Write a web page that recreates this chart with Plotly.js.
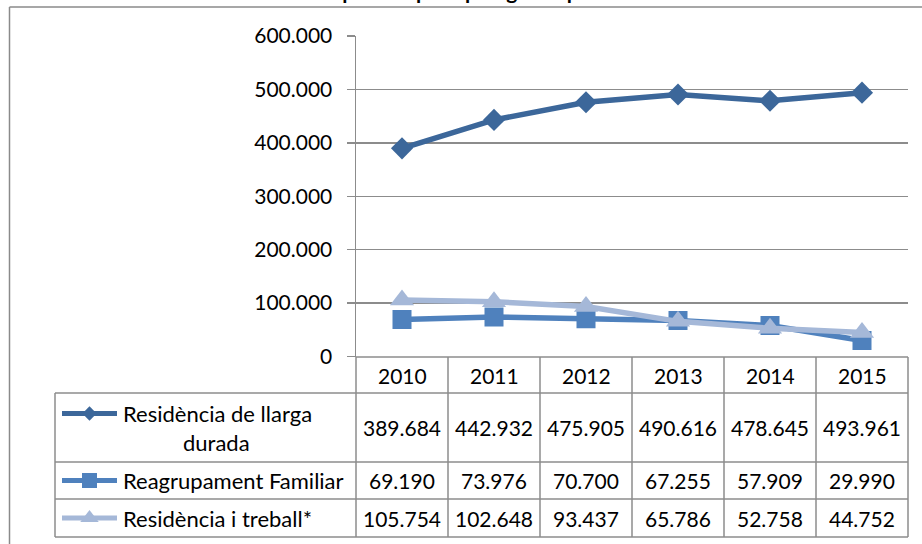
<!DOCTYPE html>
<html>
<head>
<meta charset="utf-8">
<script src="https://cdn.plot.ly/plotly-3.0.1.min.js"></script>
<style>
  html, body { margin: 0; padding: 0; background: #ffffff; }
  #chart { width: 922px; height: 544px; }
</style>
</head>
<body>
<div id="chart"></div>
<script>
// ---------------- DATA ----------------
const years = ['2010', '2011', '2012', '2013', '2014', '2015'];
const seriesNames = ['Residència de llarga durada', 'Reagrupament Familiar', 'Residència i treball*'];
const resLlargaDurada = [389684, 442932, 475905, 490616, 478645, 493961];
const reagrupamentFamiliar = [69190, 73976, 70700, 67255, 57909, 29990];
const residenciaTreball = [105754, 102648, 93437, 65786, 52758, 44752];
const chartTitle = 'Comparació per tipologia de permisos';

// ---------------- STYLE / LAYOUT CONSTANTS (pixels) ----------------
const W = 922, H = 544;
const plotL = 356, plotR = 908, plotT = 36, plotB = 356.5;
const rowLines = [357, 393, 462, 499, 537];
const tableL = 55;
const keyX0 = 62, keyX1 = 117, textX = 121;
const colors = ['#3C679A', '#4F81BD', '#A5B8D8'];
const symbols = ['diamond', 'square', 'triangle-up'];
const markerSizes = [17, 19, 21];
const keyMarkerSizes = [11, 15, 16];
const gridColor = '#8c8c8c';
const fontFam = 'Lato, "Liberation Sans", sans-serif';
const labelSize = 22;
const numSize = 21;

const px = x => x / W;
const py = y => 1 - y / H;
const fmt = v => String(v).replace(/\B(?=(\d{3})+(?!\d))/g, '.');

const allSeries = [resLlargaDurada, reagrupamentFamiliar, residenciaTreball];

// ---------------- TRACES ----------------
const traces = allSeries.map((vals, i) => ({
  type: 'scatter', mode: 'lines+markers',
  x: years, y: vals, name: seriesNames[i],
  line: { color: colors[i], width: 5.5 },
  marker: { symbol: symbols[i], size: markerSizes[i], color: colors[i] },
  xaxis: 'x', yaxis: 'y', hoverinfo: 'x+y'
}));

// legend keys inside the data table (overlay axes in pixel units)
const keyY = [
  (rowLines[1] + rowLines[2]) / 2 - 14,
  (rowLines[2] + rowLines[3]) / 2,
  (rowLines[3] + rowLines[4]) / 2
];
allSeries.forEach((vals, i) => {
  traces.push({
    type: 'scatter', mode: 'lines',
    x: [keyX0, keyX1], y: [keyY[i], keyY[i]],
    line: { color: colors[i], width: 5 },
    xaxis: 'x2', yaxis: 'y2', hoverinfo: 'skip', showlegend: false
  });
  traces.push({
    type: 'scatter', mode: 'markers',
    x: [(keyX0 + keyX1) / 2], y: [keyY[i]],
    marker: { symbol: symbols[i], size: keyMarkerSizes[i], color: colors[i] },
    xaxis: 'x2', yaxis: 'y2', hoverinfo: 'skip', showlegend: false
  });
});

// ---------------- SHAPES (table grid + chart border) ----------------
const shapes = [];
const lineStyle = { color: gridColor, width: 1.5 };
const colW = (plotR - plotL) / years.length;
for (let k = 0; k <= years.length; k++) {
  const xx = plotL + k * colW;
  shapes.push({ type: 'line', xref: 'paper', yref: 'paper', layer: 'below',
    x0: px(xx), x1: px(xx), y0: py(rowLines[0]), y1: py(rowLines[4]), line: lineStyle });
}
shapes.push({ type: 'line', xref: 'paper', yref: 'paper', layer: 'below',
  x0: px(tableL), x1: px(tableL), y0: py(rowLines[1]), y1: py(rowLines[4]), line: lineStyle });
for (let r = 1; r < rowLines.length; r++) {
  shapes.push({ type: 'line', xref: 'paper', yref: 'paper', layer: 'below',
    x0: px(tableL), x1: px(plotR), y0: py(rowLines[r]), y1: py(rowLines[r]), line: lineStyle });
}
shapes.push({ type: 'line', xref: 'paper', yref: 'paper', layer: 'below',
  x0: px(plotL), x1: px(plotR), y0: py(rowLines[0]), y1: py(rowLines[0]), line: lineStyle });
shapes.push({ type: 'line', xref: 'paper', yref: 'paper',
  x0: px(9.5), x1: px(9.5), y0: py(7), y1: 0, line: { color: '#8a8a8a', width: 1.5 } });
shapes.push({ type: 'line', xref: 'paper', yref: 'paper',
  x0: px(9.5), x1: 1, y0: py(7), y1: py(7), line: { color: '#8a8a8a', width: 1.5 } });

// ---------------- ANNOTATIONS (table text) ----------------
const labelFont = { family: fontFam, size: labelSize, color: '#000000' };
const numFont = { family: fontFam, size: numSize, color: '#000000' };
const annotations = [];
const rowCenters = [
  (rowLines[1] + rowLines[2]) / 2,
  (rowLines[2] + rowLines[3]) / 2,
  (rowLines[3] + rowLines[4]) / 2
];
years.forEach((yr, j) => {
  annotations.push({ xref: 'x', yref: 'paper', x: j, y: py((rowLines[0] + rowLines[1]) / 2),
    text: yr, showarrow: false, font: numFont, xanchor: 'center', yanchor: 'middle' });
});
allSeries.forEach((vals, i) => {
  vals.forEach((v, j) => {
    annotations.push({ xref: 'x', yref: 'paper', x: j, y: py(rowCenters[i]),
      text: fmt(v), showarrow: false, font: numFont, xanchor: 'center', yanchor: 'middle' });
  });
});
annotations.push({ xref: 'paper', yref: 'paper', x: px(textX), y: py(keyY[0]),
  text: 'Residència de llarga', showarrow: false, font: labelFont, xanchor: 'left', yanchor: 'middle' });
annotations.push({ xref: 'paper', yref: 'paper', x: px(216), y: py(keyY[0] + 29),
  text: 'durada', showarrow: false, font: labelFont, xanchor: 'center', yanchor: 'middle' });
annotations.push({ xref: 'paper', yref: 'paper', x: px(textX), y: py(keyY[1]),
  text: seriesNames[1], showarrow: false, font: labelFont, xanchor: 'left', yanchor: 'middle' });
annotations.push({ xref: 'paper', yref: 'paper', x: px(textX), y: py(keyY[2]),
  text: seriesNames[2], showarrow: false, font: labelFont, xanchor: 'left', yanchor: 'middle' });
// title (cut off at the top, as in the reference)
annotations.push({ xref: 'paper', yref: 'paper', x: px(475), y: py(5),
  text: '<b>' + chartTitle + '</b>', showarrow: false,
  font: { family: fontFam, size: 21, color: '#000000' }, xanchor: 'center', yanchor: 'bottom' });

// ---------------- LAYOUT ----------------
const layout = {
  width: W, height: H,
  margin: { l: 0, r: 0, t: 0, b: 0, pad: 0 },
  paper_bgcolor: '#ffffff', plot_bgcolor: 'rgba(0,0,0,0)',
  showlegend: false,
  separators: ',.',
  font: { family: fontFam, size: numSize, color: '#000000' },
  xaxis: {
    domain: [px(plotL), px(plotR)],
    type: 'category', range: [-0.5, years.length - 0.5],
    showticklabels: false, showgrid: false, zeroline: false,
    showline: false, ticks: '', fixedrange: true
  },
  yaxis: {
    domain: [py(plotB), py(plotT)],
    range: [0, 600000], dtick: 100000, tick0: 0,
    tickformat: ',d',
    showgrid: true, gridcolor: gridColor, gridwidth: 1.5,
    zeroline: false,
    showline: true, linecolor: gridColor, linewidth: 1.5,
    ticks: 'outside', ticklen: 8, tickcolor: gridColor, tickwidth: 1.5,
    ticklabelstandoff: 10,
    tickfont: { family: fontFam, size: numSize, color: '#000000' },
    fixedrange: true
  },
  xaxis2: { domain: [0, 1], range: [0, W], visible: false, anchor: 'y2', fixedrange: true },
  yaxis2: { domain: [0, 1], range: [H, 0], visible: false, anchor: 'x2', fixedrange: true },
  shapes: shapes,
  annotations: annotations
};

Plotly.newPlot('chart', traces, layout, { displayModeBar: false, staticPlot: true });
</script>
</body>
</html>
